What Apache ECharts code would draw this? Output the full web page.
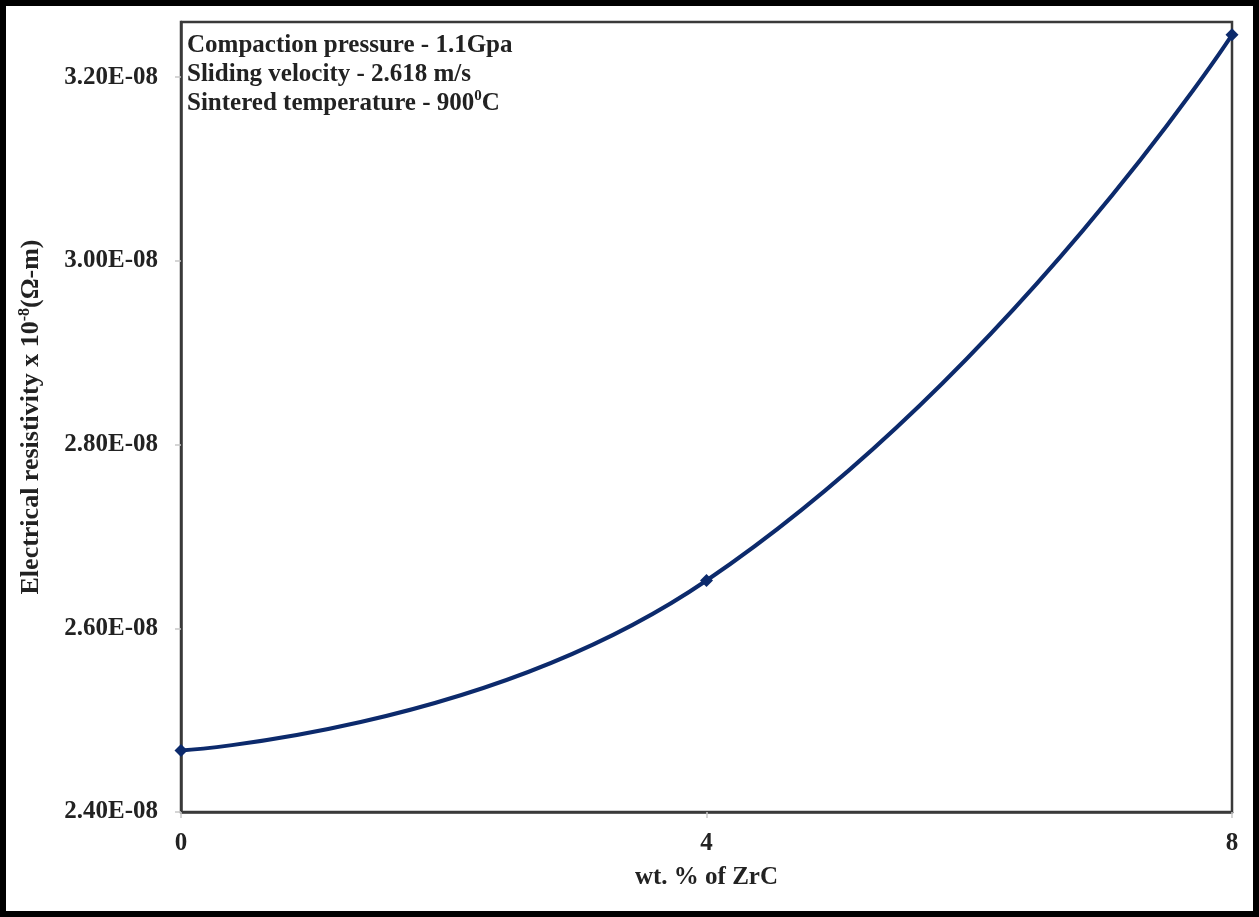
<!DOCTYPE html>
<html>
<head>
<meta charset="utf-8">
<script src="https://cdn.jsdelivr.net/npm/echarts@6/dist/echarts.min.js"></script>
<style>
  html, body { margin: 0; padding: 0; background: #fff; }
  #chart { width: 1259px; height: 917px; }
</style>
</head>
<body>
<div id="chart"></div>
<script>
const zrcWt = [0, 4, 8];
const resistivity = [2.467e-8, 2.652e-8, 3.246e-8];
const xTicks = [0, 4, 8];
const notes = [
  "Compaction pressure - 1.1Gpa",
  "Sliding velocity - 2.618 m/s",
  "Sintered temperature - 900{sup|0}C",
];

const FONT = "'Liberation Serif', 'Times New Roman', serif";
const LINE = "#0c2a6c";

const chart = echarts.init(document.getElementById("chart"));

chart.setOption({
  backgroundColor: "#fff",
  animation: false,
  grid: { left: 181, top: 22, right: 27, bottom: 105, show: true,
          borderColor: "#3a3a3a", borderWidth: 2.5 },
  xAxis: {
    type: "value", min: 0, max: 8, interval: 4,
    name: "wt. % of ZrC", nameLocation: "middle", nameGap: 53,
    nameTextStyle: { fontFamily: FONT, fontWeight: "bold", fontSize: 25, color: "#222" },
    axisLine: { lineStyle: { color: "#3a3a3a", width: 2.5 } },
    axisTick: { show: true, length: 6, lineStyle: { color: "#c8c8c8", width: 1.5 } },
    axisLabel: { margin: 19, fontFamily: FONT, fontWeight: "bold", fontSize: 25, color: "#222",
                 formatter: v => xTicks.includes(v) ? String(v) : "" },
    splitLine: { show: false },
  },
  yAxis: {
    type: "value", min: 2.4e-8, max: 3.26e-8, interval: 0.2e-8,
    name: "{n|Electrical resistivity x 10}{sup|-8}{n|(Ω-m)}",
    nameLocation: "middle", nameGap: 136,
    nameTextStyle: {
      rich: {
        n: { fontFamily: FONT, fontWeight: "bold", fontSize: 26, color: "#222" },
        sup: { fontFamily: FONT, fontWeight: "bold", fontSize: 16, color: "#222", verticalAlign: "top", padding: [0, 0, 12, 0] },
      },
    },
    axisLine: { show: true, lineStyle: { color: "#3a3a3a", width: 2.5 } },
    axisTick: { show: true, length: 6, lineStyle: { color: "#c8c8c8", width: 1.5 } },
    axisLabel: { margin: 23, showMaxLabel: false, fontFamily: FONT, fontWeight: "bold", fontSize: 25, color: "#222",
                 formatter: v => (v / 1e-8).toFixed(2) + "E-08" },
    splitLine: { show: false },
  },
  graphic: [
    { type: "rect", shape: { x: 3, y: 3, width: 1253, height: 911 },
      style: { fill: "none", stroke: "#000", lineWidth: 6 }, silent: true },
    { type: "text", left: 187, top: 31, z: 10,
      style: {
        text: notes.join("\n"),
        fontFamily: FONT, fontWeight: "bold", fontSize: 25, lineHeight: 29, fill: "#222",
        rich: {
          sup: { fontFamily: FONT, fontWeight: "bold", fontSize: 15, fill: "#222", verticalAlign: "top", lineHeight: 20 },
        },
      } },
  ],
  series: [{
    type: "line",
    data: zrcWt.map((x, i) => [x, resistivity[i]]),
    smooth: 0.5,
    symbol: "diamond", symbolSize: 13,
    lineStyle: { color: LINE, width: 4 },
    itemStyle: { color: LINE },
  }],
});
</script>
</body>
</html>
